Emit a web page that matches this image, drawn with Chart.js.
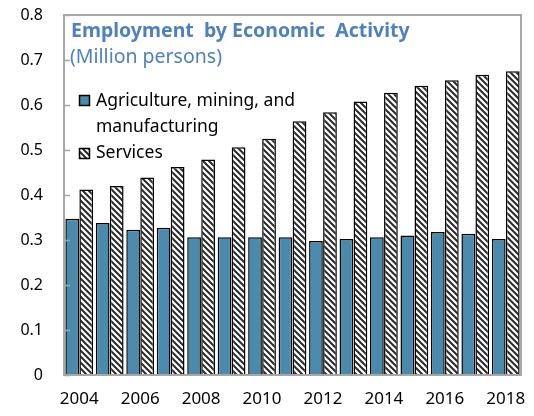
<!DOCTYPE html>
<html>
<head>
<meta charset="utf-8">
<script src="https://cdn.jsdelivr.net/npm/chart.js@4/dist/chart.umd.min.js"></script>
<style>
  body { margin: 0; background: #fff; }
</style>
</head>
<body>
<canvas id="myChart" width="534" height="416"></canvas>
<script>
const years = ['2004','2005','2006','2007','2008','2009','2010','2011','2012','2013','2014','2015','2016','2017','2018'];
const agriculture = [0.347, 0.338, 0.323, 0.327, 0.306, 0.306, 0.306, 0.306, 0.298, 0.302, 0.306, 0.310, 0.318, 0.314, 0.302];
const services = [0.412, 0.420, 0.439, 0.462, 0.479, 0.506, 0.525, 0.564, 0.584, 0.608, 0.627, 0.643, 0.655, 0.667, 0.675];
const yTicks = [0, 0.1, 0.2, 0.3, 0.4, 0.5, 0.6, 0.7, 0.8];

const FONT = '"Noto Sans", sans-serif';
const BLUE = '#4A8BAD';
const FRAME = '#A6A6A6';

// diagonal hatch for the services bars
function hatch() {
    const n = 6;
    const c = document.createElement('canvas');
    c.width = n; c.height = n;
    const g = c.getContext('2d');
    g.fillStyle = '#fff';
    g.fillRect(0, 0, n, n);
    g.strokeStyle = '#2a2a2a';
    g.lineWidth = 2;
    g.beginPath();
    g.moveTo(-1, -1); g.lineTo(n + 1, n + 1);
    g.moveTo(-1, n - 1); g.lineTo(1, n + 1);
    g.moveTo(n - 1, -1); g.lineTo(n + 1, 1);
    g.stroke();
    return g.createPattern(c, 'repeat');
}
const services_fill = hatch();

// frame, inward ticks, title and legend inside the plot
const decor = {
    id: 'decor',
    afterDatasetsDraw(chart) {
        const ctx = chart.ctx;
        const a = chart.chartArea;
        const y = chart.scales.y;
        ctx.save();
        ctx.strokeStyle = FRAME;
        ctx.lineWidth = 2;
        ctx.strokeRect(a.left, a.top, a.right - a.left, a.bottom - a.top);
        ctx.lineWidth = 1.5;
        ctx.beginPath();
        yTicks.forEach(v => {
            const py = Math.round(y.getPixelForValue(v)) + 0.5;
            ctx.moveTo(a.left, py);
            ctx.lineTo(a.left + 6, py);
        });
        ctx.stroke();

        ctx.textBaseline = 'alphabetic';
        ctx.fillStyle = '#4F81BD';
        ctx.font = 'bold 19.5px ' + FONT;
        ctx.fillText('Employment  by Economic  Activity', 71, 37);
        ctx.font = '19.5px ' + FONT;
        ctx.fillText('(Million persons)', 70, 63);

        // legend
        ctx.lineWidth = 1.5;
        ctx.strokeStyle = '#000';
        ctx.fillStyle = BLUE;
        ctx.fillRect(79.5, 95.5, 10, 10);
        ctx.strokeRect(79.5, 95.5, 10, 10);
        ctx.fillStyle = services_fill;
        ctx.fillRect(79.5, 148.5, 10, 10);
        ctx.strokeRect(79.5, 148.5, 10, 10);
        ctx.fillStyle = '#000';
        ctx.font = '17.5px ' + FONT;
        ctx.textBaseline = 'middle';
        ctx.fillText('Agriculture, mining, and', 96, 101);
        ctx.fillText('manufacturing', 96, 127);
        ctx.fillText('Services', 96, 153);
        ctx.restore();
    }
};

const ctx = document.getElementById('myChart').getContext('2d');
const chart = new Chart(ctx, {
    type: 'bar',
    data: {
        labels: years,
        datasets: [{
            label: 'Agriculture, mining, and manufacturing',
            data: agriculture,
            backgroundColor: BLUE,
            borderColor: '#000',
            borderWidth: 1.5
        }, {
            label: 'Services',
            data: services,
            backgroundColor: services_fill,
            borderColor: '#000',
            borderWidth: 1.5
        }]
    },
    options: {
        responsive: false,
        animation: false,
        layout: { padding: { top: 15, right: 13, left: 0, bottom: 0 } },
        datasets: { bar: { categoryPercentage: 0.92, barPercentage: 0.98 } },
        plugins: { legend: { display: false }, tooltip: { enabled: false } },
        scales: {
            x: {
                grid: { display: false, drawTicks: false },
                border: { display: false },
                afterFit(s) {
                    s.height = 41;
                    s.paddingLeft = 0;
                    s.paddingRight = 0;
                },
                ticks: {
                    autoSkip: false,
                    maxRotation: 0,
                    padding: 14,
                    color: '#000',
                    font: { family: FONT, size: 17 },
                    callback(v, i) { return i % 2 === 0 ? years[i] : ''; }
                }
            },
            y: {
                min: 0,
                max: 0.8,
                grid: { display: false, drawTicks: false },
                border: { display: false },
                afterFit(s) {
                    s.width = 64;
                    s.paddingTop = 0;
                    s.paddingBottom = 0;
                },
                afterBuildTicks(s) { s.ticks = yTicks.map(v => ({ value: v })); },
                ticks: {
                    padding: 21,
                    color: '#000',
                    font: { family: FONT, size: 16 },
                    callback(v) { return v === 0 ? '0' : v.toFixed(1); }
                }
            }
        }
    },
    plugins: [decor]
});
</script>
</body>
</html>
